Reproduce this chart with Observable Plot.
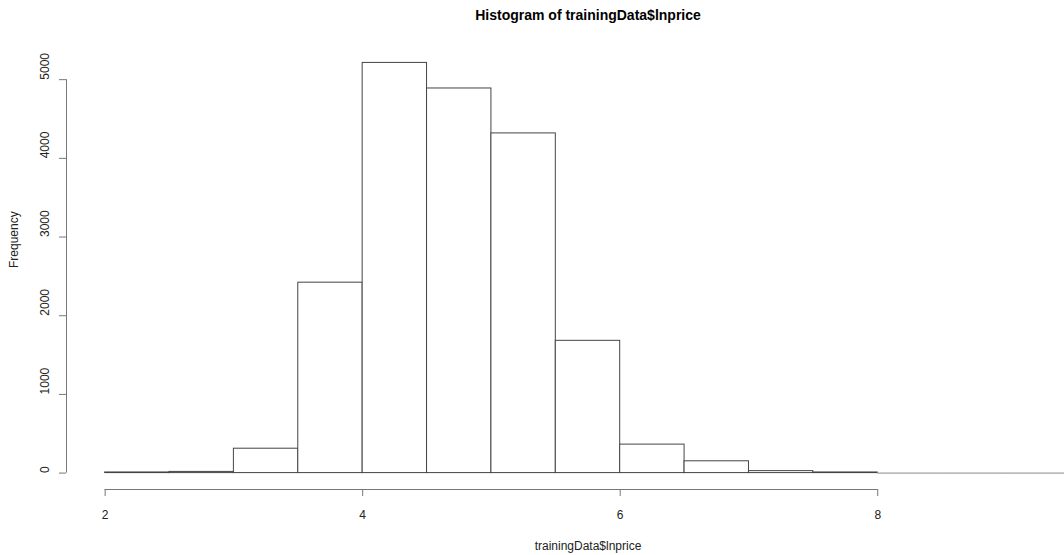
<!DOCTYPE html>
<html>
<head>
<meta charset="utf-8">
<script src="https://cdn.jsdelivr.net/npm/d3@7"></script>
<script src="https://cdn.jsdelivr.net/npm/@observablehq/plot@0.6"></script>
<style>
  html, body { margin: 0; padding: 0; background: #fff; }
  svg { display: block; }
</style>
</head>
<body>
<div id="chart"></div>
<script>
const titleText = "Histogram of trainingData$lnprice";
const xLabel = "trainingData$lnprice";
const yLabel = "Frequency";
const binStarts = [2, 2.5, 3, 3.5, 4, 4.5, 5, 5.5, 6, 6.5, 7, 7.5, 8, 8.5, 9];
const binWidth = 0.5;
const counts = [8, 15, 310, 2420, 5213, 4888, 4317, 1681, 362, 150, 25, 8, 0, 0, 0];
const xTicks = [2, 4, 6, 8];
const yTicks = [0, 1000, 2000, 3000, 4000, 5000];

const bins = binStarts.map((s, i) => ({x1: s, x2: s + binWidth, count: counts[i]}));

// R-style 4% axis extension
const xMin = binStarts[0], xMax = binStarts[binStarts.length - 1] + binWidth;
const xPad = (xMax - xMin) * 0.04;
const yMax = d3.max(counts);
const yPad = yMax * 0.04;
const xDomain = [xMin - xPad, xMax + xPad];
const yDomain = [-yPad, yMax + yPad];

const ink = "#222";
const axisColor = "#777";

const chart = Plot.plot({
  width: 1064,
  height: 555,
  marginLeft: 66,
  marginRight: -45,
  marginTop: 46,
  marginBottom: 66,
  style: {fontFamily: "'Liberation Sans', Arial, sans-serif", fontSize: "12px", color: ink, background: "#fff"},
  x: {domain: xDomain, axis: null},
  y: {domain: yDomain, axis: null},
  marks: [
    Plot.rectY(bins.filter(d => d.count > 0), {x1: "x1", x2: "x2", y1: 0, y2: "count", fill: "white", stroke: "#444", strokeWidth: 1}),
    // empty bins drawn as flat lines, as R does
    Plot.ruleY(bins.filter(d => d.count === 0), {x1: "x1", x2: "x2", y: "count", stroke: "#888", strokeWidth: 1}),
    // x axis
    Plot.ruleY([yDomain[0]], {x1: xTicks[0], x2: xTicks[xTicks.length - 1], stroke: axisColor}),
    Plot.axisX({ticks: xTicks, tickSize: 7, tickPadding: 14, stroke: axisColor, fill: ink, fontSize: 12, label: null, tickFormat: d => String(d)}),
    // y axis
    Plot.ruleX([xDomain[0]], {y1: yTicks[0], y2: yTicks[yTicks.length - 1], stroke: axisColor}),
    Plot.axisY({ticks: yTicks, tickSize: 7, stroke: axisColor, tickFormat: () => "", label: null}),
    Plot.text(yTicks, {y: d => d, text: d => String(d), frameAnchor: "left", dx: -21, rotate: -90, fill: ink, fontSize: 12}),
    // labels
    Plot.text([titleText], {frameAnchor: "top", lineAnchor: "top", dy: -36, fontWeight: "bold", fontSize: 14, fill: "#000"}),
    Plot.text([xLabel], {frameAnchor: "bottom", dy: 60, fontSize: 12, fill: ink}),
    Plot.text([yLabel], {frameAnchor: "left", dx: -52, rotate: -90, fontSize: 12, fill: ink})
  ]
});
document.getElementById("chart").appendChild(chart);
</script>
</body>
</html>
